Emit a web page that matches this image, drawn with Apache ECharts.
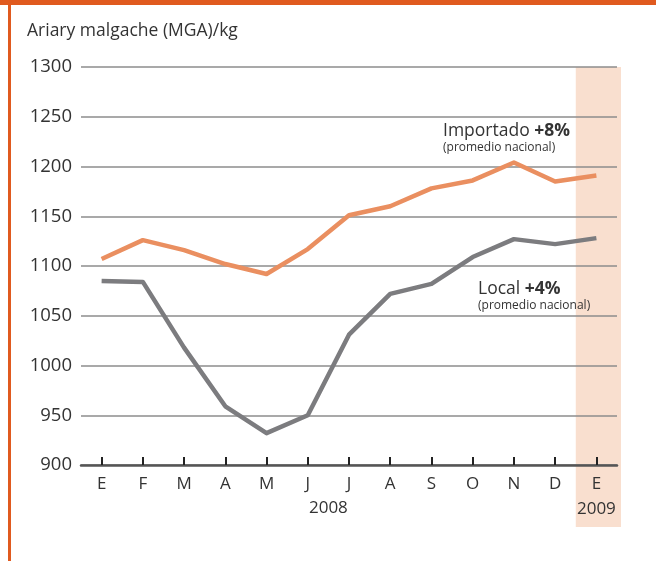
<!DOCTYPE html>
<html>
<head>
<meta charset="utf-8">
<script src="https://cdn.jsdelivr.net/npm/echarts@6/dist/echarts.min.js"></script>
<style>
  html, body { margin: 0; padding: 0; background: #fff; }
  #main { width: 656px; height: 561px; }
</style>
</head>
<body>
<div id="main"></div>
<script>
  // meses (E = enero ... D = diciembre), 2008 + enero 2009
  var meses = ['E', 'F', 'M', 'A', 'M', 'J', 'J', 'A', 'S', 'O', 'N', 'D', 'E'];
  var importado = [1107, 1126, 1116, 1102, 1092, 1117, 1151, 1160, 1178, 1186, 1204, 1185, 1191];
  var local = [1085, 1084, 1018, 959, 932, 950, 1031, 1072, 1082, 1109, 1127, 1122, 1128];
  var yTicks = [900, 950, 1000, 1050, 1100, 1150, 1200, 1250, 1300];

  var fuente = '"Open Sans", "Noto Sans", sans-serif';
  var chart = echarts.init(document.getElementById('main'));

  var option = {
    animation: false,
    textStyle: { fontFamily: fuente },
    grid: { left: 81, right: 39, top: 67, bottom: 96 },
    xAxis: {
      type: 'category',
      data: meses,
      boundaryGap: true,
      axisLine: { show: true, lineStyle: { color: '#555', width: 2.5 } },
      axisTick: { show: true, interval: 0, alignWithLabel: true, inside: true, length: 8, lineStyle: { color: '#222', width: 2 } },
      axisLabel: { interval: 0, margin: 11, fontSize: 17, color: '#333', fontFamily: fuente },
      splitLine: { show: false }
    },
    yAxis: {
      type: 'value',
      min: yTicks[0],
      max: yTicks[yTicks.length - 1],
      interval: 50,
      axisLine: { show: false },
      axisTick: { show: false },
      axisLabel: {
        fontSize: 18.5, color: '#333', margin: 9, fontFamily: fuente,
        formatter: function (v) { return String(v); }
      },
      splitLine: { lineStyle: { color: '#8c8c8c', width: 1.5 } }
    },
    series: [
      {
        name: 'Importado',
        type: 'line',
        data: importado,
        symbol: 'none',
        lineStyle: { color: '#ea8f60', width: 4.5, join: 'round' },
        z: 3
      },
      {
        name: 'Local',
        type: 'line',
        data: local,
        symbol: 'none',
        lineStyle: { color: '#7c7c7f', width: 4.5, join: 'round' },
        z: 3
      }
    ]
  };
  chart.setOption(option);

  // franja de 2009 (último mes) y posición de los años
  var cx = chart.convertToPixel({ xAxisIndex: 0 }, meses.length - 1);
  var x0 = chart.convertToPixel({ xAxisIndex: 0 }, 0);
  var x11 = chart.convertToPixel({ xAxisIndex: 0 }, 11);
  var bw = (656 - 81 - 39) / meses.length;
  var yTop = chart.convertToPixel({ yAxisIndex: 0 }, yTicks[yTicks.length - 1]);

  var rich = {
    n: { fontSize: 17.5, fill: '#333', fontFamily: fuente, lineHeight: 20 },
    b: { fontSize: 17.5, fill: '#333', fontWeight: 'bold', fontFamily: fuente, lineHeight: 20 },
    s: { fontSize: 12, fill: '#333', fontFamily: fuente, lineHeight: 14 }
  };

  chart.setOption({
    graphic: [
      // bordes naranjas
      { type: 'rect', shape: { x: 0, y: 0, width: 656, height: 5 }, style: { fill: '#e05a1f' } },
      { type: 'rect', shape: { x: 8, y: 0, width: 3, height: 561 }, style: { fill: '#e05a1f' } },
      {
        type: 'rect', z: -10,
        shape: { x: cx - bw / 2, y: yTop, width: bw + 4, height: 527 - yTop },
        style: { fill: '#f9dfcf' }
      },
      {
        type: 'text', x: (x0 + x11) / 2, y: 508,
        style: { text: '2008', fontSize: 17, fill: '#333', fontFamily: fuente, align: 'center', verticalAlign: 'middle' }
      },
      {
        type: 'text', x: cx, y: 509,
        style: { text: '2009', fontSize: 17, fill: '#333', fontFamily: fuente, align: 'center', verticalAlign: 'middle' }
      },
      {
        type: 'text', left: 27, top: 22,
        style: { text: 'Ariary malgache (MGA)/kg', fontSize: 17.5, fill: '#333', fontFamily: fuente }
      },
      {
        type: 'text', left: 443, top: 122,
        style: { text: '{n|Importado }{b|+8%}\n{s|(promedio nacional)}', fontFamily: fuente, rich: rich }
      },
      {
        type: 'text', left: 478, top: 280,
        style: { text: '{n|Local }{b|+4%}\n{s|(promedio nacional)}', fontFamily: fuente, rich: rich }
      }
    ]
  });
</script>
</body>
</html>
